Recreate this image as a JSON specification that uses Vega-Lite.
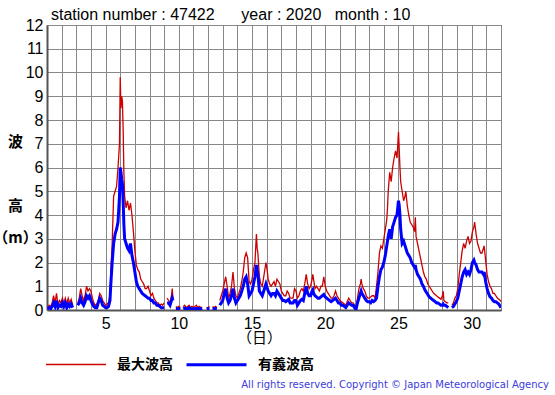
{
  "$schema": "https://vega.github.io/schema/vega-lite/v6.json",
  "autosize": {"type": "pad"},
  "padding": {"left": -8, "top": 6, "right": 0, "bottom": 0},
  "background": "white",
  "config": {
    "font": "Liberation Sans",
    "view": {"stroke": "#222", "strokeWidth": 1},
    "concat": {"spacing": 0}
  },
  "title": {
    "text": "station number : 47422\u00a0\u00a0\u00a0\u00a0\u00a0\u00a0year : 2020\u00a0\u00a0\u00a0month : 10",
    "anchor": "start",
    "frame": "group",
    "fontSize": 16,
    "fontWeight": "normal",
    "font": "Liberation Sans",
    "color": "#000",
    "offset": -6,
    "dx": 4
  },
  "vconcat": [
    {
      "width": 454,
      "height": 285,
      "title": {
        "text": "All rights reserved. Copyright © Japan Meteorological Agency",
        "orient": "bottom",
        "anchor": "end",
        "frame": "group",
        "font": "DejaVu Sans",
        "fontSize": 10,
        "fontWeight": "normal",
        "color": "#3c3cdc",
        "dx": 48,
        "offset": 35
      },
      "data": {
        "values": [
          {"t": 1.05, "最大波高": 0.1, "有義波高": 0.05},
          {"t": 1.15, "最大波高": 0.2, "有義波高": 0.1},
          {"t": 1.25, "最大波高": 0.15, "有義波高": 0.05},
          {"t": 1.35, "最大波高": 0.3, "有義波高": 0.15},
          {"t": 1.45, "最大波高": 0.6, "有義波高": 0.3},
          {"t": 1.55, "最大波高": 0.3, "有義波高": 0.15},
          {"t": 1.65, "最大波高": 0.7, "有義波高": 0.4},
          {"t": 1.75, "最大波高": 0.2, "有義波高": 0.1},
          {"t": 1.85, "最大波高": 0.4, "有義波高": 0.2},
          {"t": 1.95, "最大波高": 0.3, "有義波高": 0.15},
          {"t": 2.05, "最大波高": 0.5, "有義波高": 0.3},
          {"t": 2.15, "最大波高": 0.3, "有義波高": 0.15},
          {"t": 2.25, "最大波高": 0.5, "有義波高": 0.3},
          {"t": 2.35, "最大波高": 0.25, "有義波高": 0.1},
          {"t": 2.45, "最大波高": 0.5, "有義波高": 0.25},
          {"t": 2.55, "最大波高": 0.3, "有義波高": 0.15},
          {"t": 2.65, "最大波高": 0.45, "有義波高": 0.25},
          {"t": 2.75, "最大波高": 0.2, "有義波高": 0.1},
          {"t": 2.9, "最大波高": null, "有義波高": null},
          {"t": 3.1, "最大波高": 0.3, "有義波高": 0.2},
          {"t": 3.2, "最大波高": 0.5, "有義波高": 0.3},
          {"t": 3.3, "最大波高": 0.9, "有義波高": 0.5},
          {"t": 3.4, "最大波高": 0.6, "有義波高": 0.3},
          {"t": 3.5, "最大波高": 0.4, "有義波高": 0.2},
          {"t": 3.6, "最大波高": 0.6, "有義波高": 0.35},
          {"t": 3.7, "最大波高": 1.0, "有義波高": 0.6},
          {"t": 3.8, "最大波高": 0.8, "有義波高": 0.5},
          {"t": 3.9, "最大波高": 0.9, "有義波高": 0.6},
          {"t": 4.0, "最大波高": 0.8, "有義波高": 0.4},
          {"t": 4.1, "最大波高": 0.5, "有義波高": 0.25},
          {"t": 4.2, "最大波高": 0.3, "有義波高": 0.15},
          {"t": 4.3, "最大波高": 0.2, "有義波高": 0.1},
          {"t": 4.4, "最大波高": 0.25, "有義波高": 0.1},
          {"t": 4.5, "最大波高": 0.4, "有義波高": 0.3},
          {"t": 4.6, "最大波高": 0.7, "有義波高": 0.5},
          {"t": 4.7, "最大波高": 0.6, "有義波高": 0.4},
          {"t": 4.8, "最大波高": 0.4, "有義波高": 0.2},
          {"t": 4.9, "最大波高": 0.3, "有義波高": 0.15},
          {"t": 5.0, "最大波高": 0.2, "有義波高": 0.1},
          {"t": 5.1, "最大波高": 0.25, "有義波高": 0.1},
          {"t": 5.2, "最大波高": 0.3, "有義波高": 0.15},
          {"t": 5.3, "最大波高": 0.6, "有義波高": 0.4},
          {"t": 5.35, "最大波高": 1.5, "有義波高": 1.0},
          {"t": 5.45, "最大波高": 2.8, "有義波高": 2.0},
          {"t": 5.55, "最大波高": 4.8, "有義波高": 2.8},
          {"t": 5.65, "最大波高": 5.0, "有義波高": 3.2},
          {"t": 5.75, "最大波高": 5.2, "有義波高": 3.4},
          {"t": 5.85, "最大波高": 6.0, "有義波高": 3.7},
          {"t": 5.95, "最大波高": 7.0, "有義波高": 4.8},
          {"t": 6.0, "最大波高": 9.8, "有義波高": 6.0},
          {"t": 6.05, "最大波高": 8.5, "有義波高": 5.8},
          {"t": 6.1, "最大波高": 9.0, "有義波高": 5.5},
          {"t": 6.15, "最大波高": 8.8, "有義波高": 5.3},
          {"t": 6.2, "最大波高": 7.6, "有義波高": 4.6},
          {"t": 6.25, "最大波高": 5.8, "有義波高": 3.6},
          {"t": 6.3, "最大波高": 4.8, "有義波高": 3.0},
          {"t": 6.4, "最大波高": 4.3, "有義波高": 2.8},
          {"t": 6.5, "最大波高": 4.6, "有義波高": 2.6},
          {"t": 6.6, "最大波高": 4.2, "有義波高": 2.5},
          {"t": 6.7, "最大波高": 4.5, "有義波高": 2.8},
          {"t": 6.8, "最大波高": 4.0, "有義波高": 2.3},
          {"t": 6.9, "最大波高": 3.3, "有義波高": 2.0},
          {"t": 7.0, "最大波高": 2.5, "有義波高": 1.6},
          {"t": 7.1, "最大波高": 1.9, "有義波高": 1.2},
          {"t": 7.2, "最大波高": 1.7, "有義波高": 1.0},
          {"t": 7.3, "最大波高": 1.6, "有義波高": 0.9},
          {"t": 7.4, "最大波高": 1.3, "有義波高": 0.8},
          {"t": 7.5, "最大波高": 1.2, "有義波高": 0.7},
          {"t": 7.6, "最大波高": 1.1, "有義波高": 0.65},
          {"t": 7.7, "最大波高": 0.9, "有義波高": 0.6},
          {"t": 7.8, "最大波高": 0.9, "有義波高": 0.55},
          {"t": 7.9, "最大波高": 1.0, "有義波高": 0.5},
          {"t": 8.0, "最大波高": 0.8, "有義波高": 0.5},
          {"t": 8.1, "最大波高": 0.6, "有義波高": 0.4},
          {"t": 8.2, "最大波高": 0.7, "有義波高": 0.4},
          {"t": 8.3, "最大波高": 0.5, "有義波高": 0.3},
          {"t": 8.4, "最大波高": 0.4, "有義波高": 0.3},
          {"t": 8.5, "最大波高": 0.3, "有義波高": 0.2},
          {"t": 8.6, "最大波高": 0.3, "有義波高": 0.2},
          {"t": 8.7, "最大波高": 0.2, "有義波高": 0.15},
          {"t": 8.8, "最大波高": 0.25, "有義波高": 0.1},
          {"t": 8.9, "最大波高": 0.2, "有義波高": 0.1},
          {"t": 9.0, "最大波高": 0.3, "有義波高": 0.1},
          {"t": 9.1, "最大波高": null, "有義波高": null},
          {"t": 9.2, "最大波高": 0.5, "有義波高": 0.3},
          {"t": 9.3, "最大波高": 0.4, "有義波高": 0.3},
          {"t": 9.4, "最大波高": 0.3, "有義波高": 0.2},
          {"t": 9.5, "最大波高": 0.6, "有義波高": 0.4},
          {"t": 9.55, "最大波高": 0.9, "有義波高": 0.5},
          {"t": 9.6, "最大波高": 0.5, "有義波高": 0.4},
          {"t": 9.7, "最大波高": null, "有義波高": null},
          {"t": 9.8, "最大波高": 0.15, "有義波高": 0.05},
          {"t": 9.9, "最大波高": 0.1, "有義波高": 0.05},
          {"t": 10.0, "最大波高": 0.15, "有義波高": 0.05},
          {"t": 10.1, "最大波高": 0.1, "有義波高": 0.03},
          {"t": 10.2, "最大波高": null, "有義波高": null},
          {"t": 10.3, "最大波高": 0.15, "有義波高": 0.05},
          {"t": 10.4, "最大波高": 0.2, "有義波高": 0.08},
          {"t": 10.5, "最大波高": 0.1, "有義波高": 0.05},
          {"t": 10.6, "最大波高": 0.15, "有義波高": 0.05},
          {"t": 10.7, "最大波高": 0.2, "有義波高": 0.1},
          {"t": 10.8, "最大波高": 0.1, "有義波高": 0.05},
          {"t": 10.9, "最大波高": 0.15, "有義波高": 0.05},
          {"t": 11.0, "最大波高": 0.1, "有義波高": 0.04},
          {"t": 11.1, "最大波高": 0.15, "有義波高": 0.05},
          {"t": 11.2, "最大波高": 0.2, "有義波高": 0.07},
          {"t": 11.3, "最大波高": 0.1, "有義波高": 0.05},
          {"t": 11.4, "最大波高": 0.15, "有義波高": 0.06},
          {"t": 11.5, "最大波高": 0.1, "有義波高": 0.04},
          {"t": 11.6, "最大波高": 0.12, "有義波高": 0.05},
          {"t": 11.75, "最大波高": null, "有義波高": null},
          {"t": 11.9, "最大波高": 0.1, "有義波高": 0.04},
          {"t": 12.0, "最大波高": 0.1, "有義波高": 0.05},
          {"t": 12.1, "最大波高": 0.15, "有義波高": 0.05},
          {"t": 12.2, "最大波高": null, "有義波高": null},
          {"t": 12.3, "最大波高": 0.15, "有義波高": 0.05},
          {"t": 12.4, "最大波高": 0.1, "有義波高": 0.05},
          {"t": 12.5, "最大波高": 0.15, "有義波高": 0.06},
          {"t": 12.6, "最大波高": 0.1, "有義波高": 0.05},
          {"t": 12.7, "最大波高": null, "有義波高": null},
          {"t": 12.8, "最大波高": 0.4, "有義波高": 0.2},
          {"t": 12.9, "最大波高": 0.6, "有義波高": 0.3},
          {"t": 13.0, "最大波高": 0.8, "有義波高": 0.4},
          {"t": 13.1, "最大波高": 1.1, "有義波高": 0.7},
          {"t": 13.2, "最大波高": 1.4, "有義波高": 0.9},
          {"t": 13.3, "最大波高": 1.0, "有義波高": 0.5},
          {"t": 13.4, "最大波高": 0.5, "有義波高": 0.3},
          {"t": 13.5, "最大波高": 0.7, "有義波高": 0.4},
          {"t": 13.6, "最大波高": 1.0, "有義波高": 0.6},
          {"t": 13.7, "最大波高": 1.6, "有義波高": 0.9},
          {"t": 13.8, "最大波高": 0.9, "有義波高": 0.5},
          {"t": 13.9, "最大波高": 0.6, "有義波高": 0.3},
          {"t": 14.0, "最大波高": 0.5, "有義波高": 0.4},
          {"t": 14.1, "最大波高": 0.7, "有義波高": 0.5},
          {"t": 14.2, "最大波高": 0.9, "有義波高": 0.6},
          {"t": 14.3, "最大波高": 1.2, "有義波高": 0.8},
          {"t": 14.4, "最大波高": 1.6, "有義波高": 1.0},
          {"t": 14.5, "最大波高": 2.2, "有義波高": 1.3},
          {"t": 14.6, "最大波高": 2.4, "有義波高": 1.4},
          {"t": 14.7, "最大波高": 2.2, "有義波高": 1.1},
          {"t": 14.8, "最大波高": 1.2, "有義波高": 0.6},
          {"t": 14.9, "最大波高": 1.1, "有義波高": 0.7},
          {"t": 15.0, "最大波高": 1.3, "有義波高": 0.8},
          {"t": 15.1, "最大波高": 1.7, "有義波高": 1.1},
          {"t": 15.2, "最大波高": 2.0, "有義波高": 1.4},
          {"t": 15.3, "最大波高": 3.2, "有義波高": 1.9},
          {"t": 15.35, "最大波高": 2.6, "有義波高": 1.7},
          {"t": 15.4, "最大波高": 2.4, "有義波高": 1.5},
          {"t": 15.5, "最大波高": 1.4, "有義波高": 0.8},
          {"t": 15.6, "最大波高": 1.1, "有義波高": 0.7},
          {"t": 15.7, "最大波高": 1.0, "有義波高": 0.6},
          {"t": 15.8, "最大波高": 1.4, "有義波高": 0.8},
          {"t": 15.95, "最大波高": 2.0, "有義波高": 1.1},
          {"t": 16.05, "最大波高": 1.6, "有義波高": 0.9},
          {"t": 16.1, "最大波高": 1.3, "有義波高": 0.8},
          {"t": 16.2, "最大波高": 1.1, "有義波高": 0.7},
          {"t": 16.3, "最大波高": 1.0, "有義波高": 0.6},
          {"t": 16.4, "最大波高": 1.1, "有義波高": 0.7},
          {"t": 16.5, "最大波高": 1.2, "有義波高": 0.7},
          {"t": 16.6, "最大波高": 1.0, "有義波高": 0.6},
          {"t": 16.7, "最大波高": 1.3, "有義波高": 0.8},
          {"t": 16.8, "最大波高": 1.2, "有義波高": 0.7},
          {"t": 16.9, "最大波高": 1.1, "有義波高": 0.6},
          {"t": 17.0, "最大波高": 0.8, "有義波高": 0.5},
          {"t": 17.1, "最大波高": 0.7, "有義波高": 0.4},
          {"t": 17.2, "最大波高": 0.6, "有義波高": 0.4},
          {"t": 17.3, "最大波高": 0.6, "有義波高": 0.35},
          {"t": 17.4, "最大波高": 0.8, "有義波高": 0.4},
          {"t": 17.5, "最大波高": 0.7, "有義波高": 0.45},
          {"t": 17.6, "最大波高": 0.5, "有義波高": 0.3},
          {"t": 17.7, "最大波高": 0.5, "有義波高": 0.3},
          {"t": 17.8, "最大波高": 0.5, "有義波高": 0.3},
          {"t": 17.9, "最大波高": 0.9, "有義波高": 0.4},
          {"t": 18.0, "最大波高": 0.8, "有義波高": 0.4},
          {"t": 18.1, "最大波高": 0.5, "有義波高": 0.2},
          {"t": 18.2, "最大波高": 0.6, "有義波高": 0.3},
          {"t": 18.3, "最大波高": 0.8, "有義波高": 0.4},
          {"t": 18.4, "最大波高": 0.9, "有義波高": 0.45},
          {"t": 18.5, "最大波高": 0.8, "有義波高": 0.4},
          {"t": 18.6, "最大波高": 1.1, "有義波高": 0.7},
          {"t": 18.7, "最大波高": 1.5, "有義波高": 1.0},
          {"t": 18.8, "最大波高": 1.1, "有義波高": 0.7},
          {"t": 18.9, "最大波高": 0.9, "有義波高": 0.6},
          {"t": 19.0, "最大波高": 1.0, "有義波高": 0.6},
          {"t": 19.1, "最大波高": 1.3, "有義波高": 0.8},
          {"t": 19.15, "最大波高": 1.5, "有義波高": 0.85},
          {"t": 19.2, "最大波高": 1.3, "有義波高": 0.7},
          {"t": 19.3, "最大波高": 0.9, "有義波高": 0.6},
          {"t": 19.4, "最大波高": 1.0, "有義波高": 0.55},
          {"t": 19.5, "最大波高": 0.9, "有義波高": 0.5},
          {"t": 19.6, "最大波高": 0.8, "有義波高": 0.5},
          {"t": 19.7, "最大波高": 1.0, "有義波高": 0.55},
          {"t": 19.8, "最大波高": 1.0, "有義波高": 0.6},
          {"t": 19.9, "最大波高": 1.4, "有義波高": 0.65},
          {"t": 20.0, "最大波高": 1.0, "有義波高": 0.55},
          {"t": 20.1, "最大波高": 0.8, "有義波高": 0.5},
          {"t": 20.2, "最大波高": 0.7, "有義波高": 0.45},
          {"t": 20.3, "最大波高": 0.6, "有義波高": 0.4},
          {"t": 20.4, "最大波高": 0.5, "有義波高": 0.35},
          {"t": 20.5, "最大波高": 0.5, "有義波高": 0.4},
          {"t": 20.6, "最大波高": 0.6, "有義波高": 0.45},
          {"t": 20.7, "最大波高": 0.8, "有義波高": 0.5},
          {"t": 20.8, "最大波高": 0.6, "有義波高": 0.4},
          {"t": 20.9, "最大波高": 0.5, "有義波高": 0.3},
          {"t": 21.0, "最大波高": 0.4, "有義波高": 0.3},
          {"t": 21.1, "最大波高": 0.35, "有義波高": 0.2},
          {"t": 21.2, "最大波高": 0.3, "有義波高": 0.2},
          {"t": 21.3, "最大波高": 0.25, "有義波高": 0.15},
          {"t": 21.4, "最大波高": 0.2, "有義波高": 0.1},
          {"t": 21.5, "最大波高": 0.35, "有義波高": 0.2},
          {"t": 21.6, "最大波高": 0.5, "有義波高": 0.3},
          {"t": 21.7, "最大波高": 0.4, "有義波高": 0.25},
          {"t": 21.8, "最大波高": 0.3, "有義波高": 0.2},
          {"t": 21.9, "最大波高": 0.3, "有義波高": 0.2},
          {"t": 22.0, "最大波高": 0.2, "有義波高": 0.1},
          {"t": 22.1, "最大波高": 0.1, "有義波高": 0.02},
          {"t": 22.2, "最大波高": 0.5, "有義波高": 0.3},
          {"t": 22.3, "最大波高": 0.9, "有義波高": 0.5},
          {"t": 22.4, "最大波高": 1.1, "有義波高": 0.7},
          {"t": 22.45, "最大波高": 1.3, "有義波高": 0.8},
          {"t": 22.5, "最大波高": 1.1, "有義波高": 0.7},
          {"t": 22.6, "最大波高": 0.9, "有義波高": 0.6},
          {"t": 22.7, "最大波高": 0.8, "有義波高": 0.5},
          {"t": 22.8, "最大波高": 0.6, "有義波高": 0.4},
          {"t": 22.9, "最大波高": 0.5, "有義波高": 0.35},
          {"t": 23.0, "最大波高": 0.5, "有義波高": 0.35},
          {"t": 23.1, "最大波高": 0.55, "有義波高": 0.3},
          {"t": 23.2, "最大波高": 0.6, "有義波高": 0.4},
          {"t": 23.3, "最大波高": 0.6, "有義波高": 0.35},
          {"t": 23.4, "最大波高": 0.5, "有義波高": 0.4},
          {"t": 23.5, "最大波高": 1.0, "有義波高": 0.5},
          {"t": 23.6, "最大波高": 1.6, "有義波高": 1.0},
          {"t": 23.7, "最大波高": 2.4, "有義波高": 1.4},
          {"t": 23.8, "最大波高": 2.7, "有義波高": 1.7},
          {"t": 23.9, "最大波高": 2.6, "有義波高": 1.8},
          {"t": 24.0, "最大波高": 3.0, "有義波高": 2.0},
          {"t": 24.1, "最大波高": 3.4, "有義波高": 2.3},
          {"t": 24.2, "最大波高": 3.8, "有義波高": 2.7},
          {"t": 24.25, "最大波高": 4.3, "有義波高": 2.9},
          {"t": 24.3, "最大波高": 5.0, "有義波高": 3.1},
          {"t": 24.4, "最大波高": 5.8, "有義波高": 3.4},
          {"t": 24.5, "最大波高": 5.4, "有義波高": 3.0},
          {"t": 24.6, "最大波高": 6.0, "有義波高": 3.5},
          {"t": 24.7, "最大波高": 6.4, "有義波高": 3.7},
          {"t": 24.8, "最大波高": 6.7, "有義波高": 3.9},
          {"t": 24.9, "最大波高": 6.4, "有義波高": 4.0},
          {"t": 25.0, "最大波高": 7.5, "有義波高": 4.6},
          {"t": 25.05, "最大波高": 6.8, "有義波高": 4.4},
          {"t": 25.1, "最大波高": 6.0, "有義波高": 4.0},
          {"t": 25.15, "最大波高": 5.4, "有義波高": 3.4},
          {"t": 25.25, "最大波高": 5.0, "有義波高": 2.8},
          {"t": 25.35, "最大波高": 4.6, "有義波高": 2.9},
          {"t": 25.45, "最大波高": 4.8, "有義波高": 2.7},
          {"t": 25.5, "最大波高": 5.0, "有義波高": 2.6},
          {"t": 25.6, "最大波高": 4.4, "有義波高": 2.4},
          {"t": 25.7, "最大波高": 4.0, "有義波高": 2.3},
          {"t": 25.8, "最大波高": 3.7, "有義波高": 2.2},
          {"t": 25.9, "最大波高": 3.6, "有義波高": 2.0},
          {"t": 26.0, "最大波高": 3.5, "有義波高": 1.9},
          {"t": 26.1, "最大波高": 3.3, "有義波高": 1.8},
          {"t": 26.15, "最大波高": 3.9, "有義波高": 1.9},
          {"t": 26.2, "最大波高": 3.1, "有義波高": 1.7},
          {"t": 26.3, "最大波高": 2.8, "有義波高": 1.5},
          {"t": 26.4, "最大波高": 2.5, "有義波高": 1.4},
          {"t": 26.5, "最大波高": 2.2, "有義波高": 1.3},
          {"t": 26.6, "最大波高": 1.9, "有義波高": 1.1},
          {"t": 26.7, "最大波高": 1.6, "有義波高": 1.0},
          {"t": 26.8, "最大波高": 1.4, "有義波高": 0.85},
          {"t": 26.9, "最大波高": 1.3, "有義波高": 0.75},
          {"t": 27.0, "最大波高": 1.1, "有義波高": 0.65},
          {"t": 27.1, "最大波高": 1.0, "有義波高": 0.55},
          {"t": 27.2, "最大波高": 0.9, "有義波高": 0.5},
          {"t": 27.3, "最大波高": 0.8, "有義波高": 0.45},
          {"t": 27.4, "最大波高": 0.7, "有義波高": 0.4},
          {"t": 27.5, "最大波高": 0.65, "有義波高": 0.35},
          {"t": 27.6, "最大波高": 0.6, "有義波高": 0.3},
          {"t": 27.7, "最大波高": 0.55, "有義波高": 0.3},
          {"t": 27.8, "最大波高": 0.5, "有義波高": 0.25},
          {"t": 27.9, "最大波高": 0.45, "有義波高": 0.2},
          {"t": 28.0, "最大波高": 0.6, "有義波高": 0.2},
          {"t": 28.05, "最大波高": 0.8, "有義波高": 0.25},
          {"t": 28.1, "最大波高": 0.4, "有義波高": 0.2},
          {"t": 28.2, "最大波高": 0.35, "有義波高": 0.2},
          {"t": 28.3, "最大波高": 0.3, "有義波高": 0.15},
          {"t": 28.4, "最大波高": 0.3, "有義波高": 0.1},
          {"t": 28.52, "最大波高": null, "有義波高": null},
          {"t": 28.65, "最大波高": 0.2, "有義波高": 0.1},
          {"t": 28.75, "最大波高": 0.3, "有義波高": 0.15},
          {"t": 28.85, "最大波高": 0.5, "有義波高": 0.25},
          {"t": 28.95, "最大波高": 0.6, "有義波高": 0.35},
          {"t": 29.05, "最大波高": 0.9, "有義波高": 0.5},
          {"t": 29.15, "最大波高": 1.5, "有義波高": 0.8},
          {"t": 29.25, "最大波高": 2.0, "有義波高": 1.1},
          {"t": 29.35, "最大波高": 2.5, "有義波高": 1.4},
          {"t": 29.45, "最大波高": 2.8, "有義波高": 1.6},
          {"t": 29.55, "最大波高": 2.6, "有義波高": 1.7},
          {"t": 29.65, "最大波高": 2.9, "有義波高": 1.5},
          {"t": 29.75, "最大波高": 3.1, "有義波高": 1.6},
          {"t": 29.85, "最大波高": 2.8, "有義波高": 1.5},
          {"t": 29.95, "最大波高": 2.9, "有義波高": 1.7},
          {"t": 30.05, "最大波高": 3.3, "有義波高": 2.0},
          {"t": 30.15, "最大波高": 3.5, "有義波高": 2.1},
          {"t": 30.2, "最大波高": 3.7, "有義波高": 2.0},
          {"t": 30.3, "最大波高": 3.2, "有義波高": 1.9},
          {"t": 30.4, "最大波高": 2.8, "有義波高": 1.7},
          {"t": 30.5, "最大波高": 2.6, "有義波高": 1.6},
          {"t": 30.6, "最大波高": 2.4, "有義波高": 1.6},
          {"t": 30.7, "最大波高": 2.4, "有義波高": 1.6},
          {"t": 30.8, "最大波高": 2.6, "有義波高": 1.5},
          {"t": 30.85, "最大波高": 2.7, "有義波高": 1.6},
          {"t": 30.95, "最大波高": 2.1, "有義波高": 1.2},
          {"t": 31.05, "最大波高": 1.5, "有義波高": 0.9},
          {"t": 31.15, "最大波高": 1.2, "有義波高": 0.7},
          {"t": 31.25, "最大波高": 1.0, "有義波高": 0.55},
          {"t": 31.35, "最大波高": 0.9, "有義波高": 0.5},
          {"t": 31.45, "最大波高": 0.7, "有義波高": 0.4},
          {"t": 31.55, "最大波高": 0.7, "有義波高": 0.35},
          {"t": 31.65, "最大波高": 0.6, "有義波高": 0.35},
          {"t": 31.75, "最大波高": 0.5, "有義波高": 0.3},
          {"t": 31.85, "最大波高": 0.45, "有義波高": 0.25},
          {"t": 31.95, "最大波高": 0.4, "有義波高": 0.15},
          {"t": 32.0, "最大波高": 0.35, "有義波高": 0.1}
        ]
      },
      "transform": [
        {"fold": ["最大波高", "有義波高"], "as": ["series", "height"]}
      ],
      "mark": {"type": "line", "invalid": "break-paths-filter-domains", "clip": true},
      "encoding": {
        "x": {
          "field": "t",
          "type": "quantitative",
          "scale": {"domain": [1, 32], "nice": false, "zero": false},
          "axis": {
            "values": [1,2,3,4,5,6,7,8,9,10,11,12,13,14,15,16,17,18,19,20,21,22,23,24,25,26,27,28,29,30,31,32],
            "labelExpr": "datum.value % 5 === 0 ? datum.label : ''",
            "labelFontSize": 16,
            "labelColor": "#000",
            "labelPadding": 5,
            "labelFont": "Liberation Sans",
            "ticks": false,
            "grid": true,
            "gridColor": "#888",
            "gridWidth": 1,
            "gridOpacity": 1,
            "domainColor": "#555",
            "domainWidth": 2,
            "title": "（日）",
            "titleFont": "Noto Sans CJK JP",
            "titleFontSize": 15,
            "titleFontWeight": "normal",
            "titleColor": "#000",
            "titleAnchor": "start",
            "titleAlign": "center",
            "titleBaseline": "middle",
            "titleX": 212,
            "titleY": 27
          }
        },
        "y": {
          "field": "height",
          "type": "quantitative",
          "scale": {"domain": [0, 12], "nice": false},
          "axis": {
            "values": [0,1,2,3,4,5,6,7,8,9,10,11,12],
            "labelFontSize": 16,
            "labelColor": "#000",
            "labelPadding": 4,
            "labelFont": "Liberation Sans",
            "ticks": false,
            "grid": true,
            "gridColor": "#888",
            "gridWidth": 1,
            "gridOpacity": 1,
            "domainColor": "#555",
            "domainWidth": 2,
            "title": ["波", "\u200b", "高", "（m）"],
            "titleFont": "Noto Sans CJK JP",
            "titleFontSize": 15,
            "titleFontWeight": "bold",
            "titleColor": "#000",
            "titleAngle": 0,
            "titleAlign": "center",
            "titleBaseline": "top",
            "titleLineHeight": 32,
            "titleX": -32,
            "titleY": 109
          }
        },
        "color": {
          "field": "series",
          "type": "nominal",
          "scale": {"domain": ["最大波高", "有義波高"], "range": ["#cc0000", "#0000ff"]},
          "legend": {
            "title": null,
            "orient": "none",
            "legendX": -2,
            "legendY": 308,
            "direction": "horizontal",
            "symbolType": "stroke",
            "symbolSize": 3600,
            "symbolStrokeWidth": 3.5,
            "labelFont": "Noto Sans CJK JP",
            "labelFontSize": 14,
            "labelFontWeight": "bold",
            "labelColor": "#000",
            "labelOffset": 10,
            "columnPadding": 7
          }
        },
        "strokeWidth": {
          "field": "series",
          "type": "nominal",
          "scale": {"domain": ["最大波高", "有義波高"], "range": [1.3, 3]},
          "legend": null
        }
      }
    }
  ]
}
